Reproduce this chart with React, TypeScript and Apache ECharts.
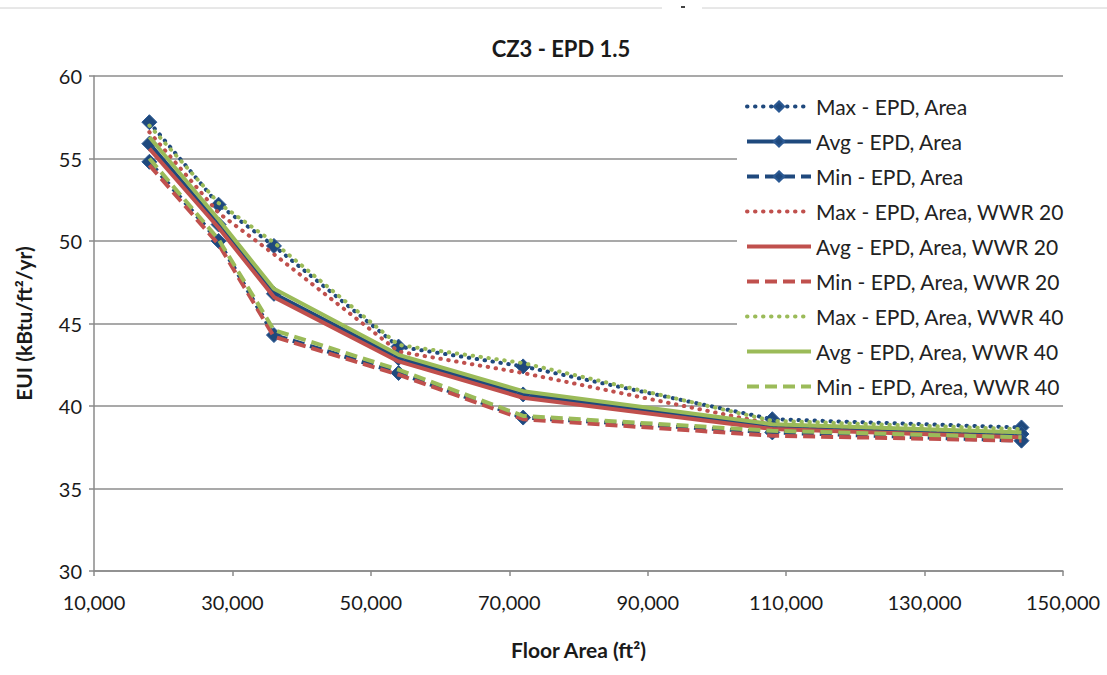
import React, { useEffect, useRef } from "react";
import * as echarts from "echarts";

const floorArea = [18000, 28000, 36000, 54000, 72000, 108000, 144000];

const maxArea = [57.2, 52.2, 49.7, 43.6, 42.4, 39.2, 38.7];
const avgArea = [55.9, 51.0, 46.8, 42.9, 40.7, 38.8, 38.3];
const minArea = [54.8, 50.0, 44.3, 42.0, 39.3, 38.4, 37.9];

const max20 = [56.6, 51.7, 49.2, 43.3, 42.0, 38.9, 38.4];
const avg20 = [55.6, 50.8, 46.6, 42.7, 40.5, 38.6, 38.1];
const min20 = [54.6, 49.8, 44.2, 41.9, 39.2, 38.2, 37.9];

const max40 = [57.0, 52.3, 49.9, 43.7, 42.6, 39.1, 38.6];
const avg40 = [56.3, 51.3, 47.1, 43.1, 40.9, 38.9, 38.4];
const min40 = [55.0, 50.1, 44.6, 42.2, 39.4, 38.5, 38.1];

const seriesNames = [
  "Max - EPD, Area",
  "Avg - EPD, Area",
  "Min - EPD, Area",
  "Max - EPD, Area, WWR 20",
  "Avg - EPD, Area, WWR 20",
  "Min - EPD, Area, WWR 20",
  "Max - EPD, Area, WWR 40",
  "Avg - EPD, Area, WWR 40",
  "Min - EPD, Area, WWR 40",
];

const BLUE = "#1F497D";
const RED = "#C0504D";
const GREEN = "#9BBB59";
const FONT = "Lato, 'Open Sans', sans-serif";

export default function App() {
  const ref = useRef<HTMLDivElement>(null);
  useEffect(() => {
    if (!ref.current) return;
    const chart = echarts.init(ref.current, undefined, { renderer: "svg" });
    const values = [maxArea, avgArea, minArea, max20, avg20, min20, max40, avg40, min40];
    const colors = [BLUE, BLUE, BLUE, RED, RED, RED, GREEN, GREEN, GREEN];
    const dotted = { type: [0.5, 7.5], cap: "round" };
    const dashed = { type: [12, 6], cap: "butt" };
    const series = values.map((vals, i) => {
      const kind = i % 3;
      const isBlue = i < 3;
      const ls: any = kind === 0 ? dotted : kind === 2 ? dashed : { type: "solid" };
      return {
        name: seriesNames[i],
        type: "line",
        data: floorArea.map((x, j) => [x, vals[j]]),
        symbol: isBlue ? "diamond" : "none",
        symbolSize: isBlue ? 15 : 0,
        showSymbol: isBlue,
        itemStyle: { color: colors[i], borderColor: "#2C5A94", borderWidth: 1 },
        lineStyle: { color: colors[i], width: 4, ...ls },
        z: 2 + i,
      };
    });
    const legendData = seriesNames.map((name, i) =>
      i < 3
        ? { name }
        : { name, itemStyle: { opacity: 0, color: "rgba(0,0,0,0)", borderWidth: 0 } }
    );
    chart.setOption({
      animation: false,
      backgroundColor: "#ffffff",
      textStyle: { fontFamily: FONT },
      title: {
        text: "CZ3 - EPD 1.5",
        left: 556,
        textAlign: "center",
        top: 32,
        textStyle: { fontFamily: FONT, fontSize: 22, fontWeight: "bold", color: "#1a1a1a" },
      },
      grid: { left: 94, right: 44, top: 76, bottom: 104, containLabel: false },
      xAxis: {
        type: "value",
        min: 10000,
        max: 150000,
        interval: 20000,
        name: "Floor Area (ft²)",
        nameLocation: "middle",
        nameGap: 68,
        nameTextStyle: { fontFamily: FONT, fontSize: 21, fontWeight: "bold", color: "#1a1a1a" },
        axisLine: { show: true, lineStyle: { color: "#8a8a8a", width: 1.5 } },
        axisTick: { show: true, length: 5, lineStyle: { color: "#8a8a8a", width: 1.5 } },
        splitLine: { show: false },
        axisLabel: {
          fontFamily: FONT,
          fontSize: 20,
          color: "#1a1a1a",
          margin: 21,
          formatter: (v: number) => v.toLocaleString("en-US"),
        },
      },
      yAxis: {
        type: "value",
        min: 30,
        max: 60,
        interval: 5,
        name: "EUI (kBtu/ft²/yr)",
        nameLocation: "middle",
        nameGap: 60,
        nameTextStyle: { fontFamily: FONT, fontSize: 21, fontWeight: "bold", color: "#1a1a1a" },
        axisLine: { show: true, lineStyle: { color: "#8a8a8a", width: 1.5 } },
        axisTick: { show: true, length: 5, lineStyle: { color: "#8a8a8a", width: 1.5 } },
        splitLine: { show: true, lineStyle: { color: "#8c8c8c", width: 1.5 } },
        axisLabel: { fontFamily: FONT, fontSize: 20, color: "#1a1a1a", margin: 12 },
      },
      legend: {
        orient: "vertical",
        left: 737,
        top: 88,
        itemWidth: 64,
        itemHeight: 13,
        itemGap: 14,
        padding: [8, 24, 0, 8],
        backgroundColor: "#ffffff",
        lineStyle: { width: 4 },
        textStyle: { fontFamily: FONT, fontSize: 21, color: "#222" },
        data: legendData,
        z: 20,
      },
      graphic: [
        { type: "line", shape: { x1: 0, y1: 8, x2: 662, y2: 8 }, style: { stroke: "#d0d0d0", lineWidth: 1 } },
        { type: "line", shape: { x1: 702, y1: 8, x2: 1107, y2: 8 }, style: { stroke: "#d0d0d0", lineWidth: 1 } },
        { type: "rect", shape: { x: 681, y: 6, width: 4, height: 2 }, style: { fill: "#444" } },
      ],
      series,
    });
    return () => chart.dispose();
  }, []);
  return (
    <div
      ref={ref}
      style={{ position: "fixed", left: 0, top: 0, width: 1107, height: 675, background: "#fff" }}
    />
  );
}
